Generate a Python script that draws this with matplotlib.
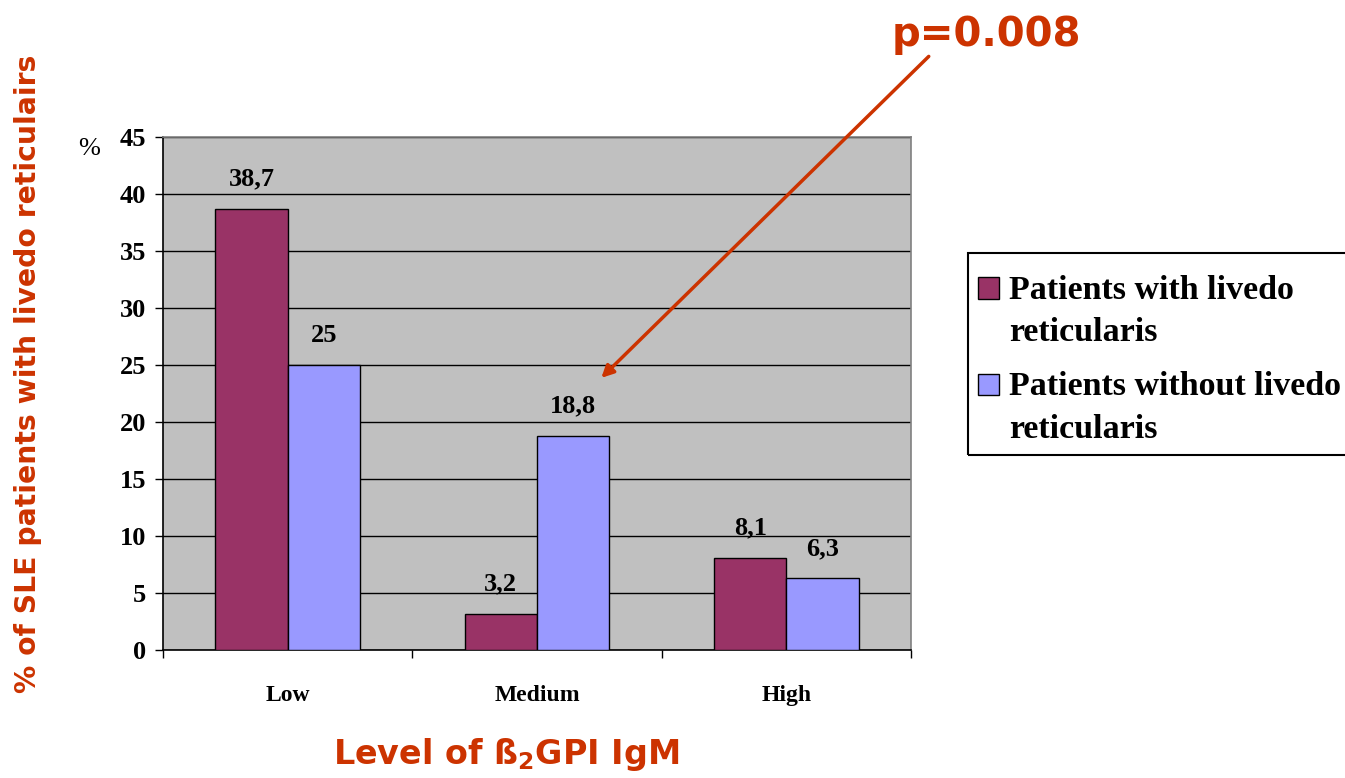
import numpy as np
import matplotlib.pyplot as plt
from matplotlib.patches import Patch, Rectangle
from matplotlib.legend_handler import HandlerPatch

# data
levels = ['Low', 'Medium', 'High']
with_livedo = [38.7, 3.2, 8.1]
without_livedo = [25, 18.8, 6.3]
labels_with = ['38,7', '3,2', '8,1']
labels_without = ['25', '18,8', '6,3']
series_names = ['Patients with livedo\nreticularis', 'Patients without livedo\nreticularis']

red = '#CC3300'
serif = 'Liberation Serif'

fig = plt.figure(figsize=(13.45, 7.78), dpi=100)
ax = fig.add_axes([0.1212, 0.1645, 0.5561, 0.6594])
ax.set_facecolor('#C0C0C0')

x = np.arange(len(levels))
w = 0.29
b1 = ax.bar(x - w / 2, with_livedo, w, color='#993366', edgecolor='black', linewidth=1, zorder=3)
b2 = ax.bar(x + w / 2, without_livedo, w, color='#9999FF', edgecolor='black', linewidth=1, zorder=3)
ax.bar_label(b1, labels=labels_with, padding=13, fontsize=19, fontweight='bold', family=serif)
ax.bar_label(b2, labels=labels_without, padding=13, fontsize=19, fontweight='bold', family=serif)

ax.set_xlim(-0.5, 2.5)
ax.set_ylim(0, 45)
ax.set_yticks(np.arange(0, 46, 5))
ax.yaxis.grid(True, color='black', linewidth=1, zorder=1)
ax.set_axisbelow(True)

ax.set_xticks(x)
ax.set_xticklabels(levels)
ax.set_xticks([-0.5, 0.5, 1.5, 2.5], minor=True)
ax.tick_params(axis='x', which='major', length=0, pad=25)
ax.tick_params(axis='x', which='minor', length=6, width=1, direction='out')
ax.tick_params(axis='y', length=6, width=1, direction='out', pad=6)
for lab in ax.get_xticklabels() + ax.get_yticklabels():
    lab.set_family(serif)
    lab.set_fontweight('bold')
for lab in ax.get_xticklabels():
    lab.set_fontsize(17)
for lab in ax.get_yticklabels():
    lab.set_fontsize(19)

ax.spines['left'].set_color('black')
ax.spines['bottom'].set_color('black')
ax.spines['top'].set_color('#808080')
ax.spines['right'].set_color('#808080')
for s in ax.spines.values():
    s.set_linewidth(1.2)


# legend square sits on the first text line, not in the middle
def top_square(legend, orig_handle, xdescent, ydescent, width, height, fontsize):
    return Rectangle((-xdescent, -ydescent + 17), width, height)


handles = [Patch(facecolor='#993366', edgecolor='black'),
           Patch(facecolor='#9999FF', edgecolor='black')]
leg = fig.legend(handles, series_names, loc='upper left', bbox_to_anchor=(0.7197, 0.6594),
                 prop={'family': serif, 'weight': 'bold', 'size': 24.5},
                 frameon=False,
                 handlelength=0.6, handleheight=0.6, handletextpad=0.3,
                 labelspacing=0.67, borderpad=0.3, borderaxespad=0,
                 handler_map={Patch: HandlerPatch(patch_func=top_square)})
for t in leg.get_texts():
    t.set_linespacing(1.47)

# legend frame, a bit taller at the top than the legend itself
fig.canvas.draw()
bb = leg.get_window_extent()
W, H = fig.bbox.width, fig.bbox.height
fig.add_artist(Rectangle((bb.x0 / W, bb.y0 / H), bb.width / W, (bb.height + 12) / H,
                         transform=fig.transFigure, facecolor='none', edgecolor='black',
                         linewidth=1.5))

# texts
fig.text(0.066, 0.808, '%', fontsize=19, family=serif, ha='center', va='center')
fig.text(0.021, 0.52, '% of SLE patients with livedo reticulairs', rotation=90,
         color=red, fontsize=20.3, fontweight='bold', family='DejaVu Sans', ha='center', va='center')
fig.text(0.376, 0.030, 'Level of ß$_\\mathbf{2}$GPI IgM', color=red, fontsize=24,
         fontweight='bold', family='DejaVu Sans', ha='center', va='center')
fig.text(0.733, 0.955, 'p=0.008', color=red, fontsize=29, fontweight='bold',
         family='DejaVu Sans', ha='center', va='center')
ax.annotate('', xy=(1.25, 23.7), xycoords='data', xytext=(0.692, 0.93),
            textcoords='figure fraction',
            arrowprops=dict(arrowstyle='-|>', color=red, lw=2.5, mutation_scale=18))

fig.savefig('out.png', dpi=100)
